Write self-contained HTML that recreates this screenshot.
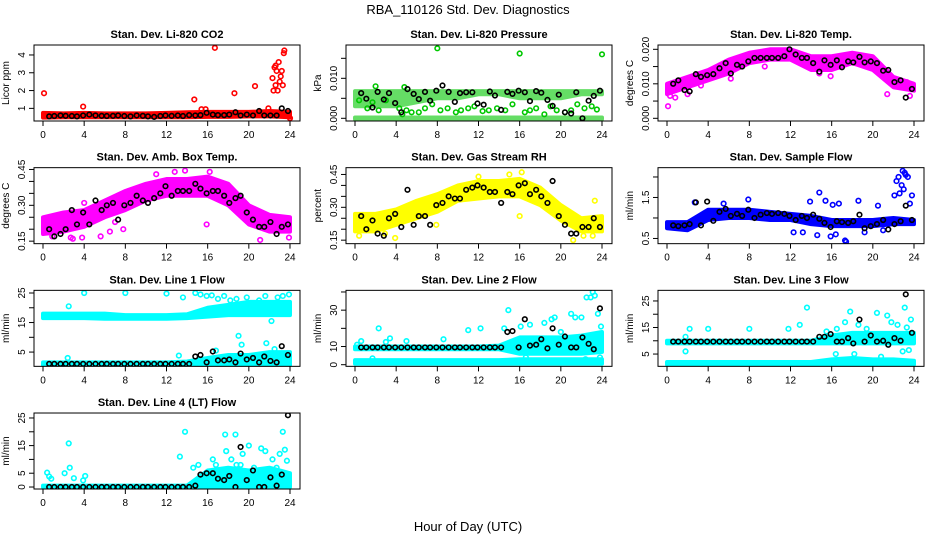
<!DOCTYPE html>
<html><head><meta charset="utf-8"><style>
html,body{margin:0;padding:0;background:#fff}
svg text{font-family:"Liberation Sans",sans-serif}
</style></head><body>
<svg id="chart" width="936" height="540" viewBox="0 0 936 540" xmlns="http://www.w3.org/2000/svg">
<rect x="0" y="0" width="936" height="540" fill="#fff"/>
<text x="468" y="14" text-anchor="middle" font-size="13">RBA_110126  Std. Dev. Diagnostics</text>
<text x="468" y="531" text-anchor="middle" font-size="13">Hour of Day (UTC)</text>
</svg>
<script>
const xTicks = [0,4,8,12,16,20,24];
const bandHours = [0,2,4,6,8,10,12,14,16,18,20,22,24];
const blackHours = [0.6,1.1,1.7,2.2,2.8,3.3,3.9,4.5,5.1,5.7,6.2,6.8,7.3,7.9,8.5,9.1,9.7,10.2,10.8,11.4,11.9,12.5,13.1,13.6,14.2,14.8,15.3,15.9,16.5,17.0,17.6,18.1,18.7,19.2,19.8,20.4,21.0,21.5,22.1,22.7,23.2,23.8];

// CO2
const co2Lo = [0.48,0.5,0.5,0.5,0.5,0.5,0.5,0.5,0.52,0.52,0.55,0.55,0.5];
const co2Hi = [0.75,0.72,0.75,0.72,0.72,0.72,0.75,0.78,0.8,0.8,0.8,0.85,0.8];
const co2OutX = [0.1,3.9,14.7,15.4,15.8,16.7,18.6,20.6,21.9,22.3,22.4,22.5,22.6,22.6,22.7,22.8,22.9,23.0,23.1,23.2,23.3,23.4,23.45,24.0];
const co2OutY = [1.85,1.1,1.5,0.95,0.95,4.4,1.85,2.25,1.0,2.7,2.0,3.3,2.3,3.4,3.1,2.0,3.6,2.5,2.8,3.1,2.3,4.1,4.25,0.45];
const co2Black = [0.55,0.57,0.6,0.58,0.57,0.55,0.6,0.65,0.6,0.58,0.57,0.58,0.6,0.57,0.55,0.6,0.58,0.55,0.52,0.57,0.6,0.58,0.6,0.57,0.62,0.6,0.62,0.75,0.65,0.62,0.62,0.65,0.78,0.6,0.65,0.6,0.85,0.6,0.6,0.6,1.0,0.85];

// Pressure
const presLo = [0.003,0.003,0.003,0.004,0.005,0.005,0.006,0.006,0.005,0.005,0.005,0.006,0.006];
const presHi = [0.0068,0.0068,0.0068,0.0068,0.0068,0.0068,0.0068,0.0068,0.0068,0.0068,0.0068,0.0068,0.0068];
const presZeroLo = [-0.0002,-0.0002,-0.0002,-0.0002,-0.0002,-0.0002,-0.0002,-0.0002,-0.0002,-0.0002,-0.0002,-0.0002,-0.0002];
const presZeroHi = [0.0002,0.0002,0.0002,0.0002,0.0002,0.0002,0.0002,0.0002,0.0002,0.0002,0.0002,0.0002,0.0002];
const presOutX = [8.0,16.0,24.0,0.4,1.2,1.7,2.3,3.0,4.3,4.6,5.0,5.5,6.2,6.8,7.5,8.3,9.0,9.8,10.3,11.0,11.6,12.4,13.0,13.8,14.6,15.3,16.5,17.0,17.6,18.4,19.0,19.6,20.4,21.0,21.6,22.3,23.0,23.5,2.0,4.8];
const presOutY = [0.0175,0.0162,0.016,0.0045,0.0025,0.004,0.002,0.0045,0.0025,0.001,0.002,0.0015,0.0015,0.0025,0.0035,0.002,0.0025,0.0015,0.002,0.0025,0.003,0.0018,0.002,0.0025,0.002,0.0035,0.0015,0.002,0.0025,0.001,0.003,0.002,0.0015,0.002,0.0035,0.0025,0.003,0.0022,0.008,0.0078];
const presBlack = [0.0063,0.0049,0.0027,0.0066,0.0047,0.0063,0.0038,0.0015,0.0073,0.0061,0.0048,0.0066,0.0044,0.0069,0.0082,0.0066,0.0041,0.0063,0.0065,0.0065,0.0037,0.0034,0.0067,0.0057,0.0021,0.0066,0.0061,0.0069,0.0065,0.0043,0.0068,0.0064,0.0046,0.0031,0.0059,0.0015,0.0012,0.0065,0.0,0.0044,0.0056,0.0069];

// Li-820 Temp
const tempLo = [0.007,0.009,0.011,0.013,0.016,0.017,0.017,0.014,0.014,0.016,0.014,0.009,0.008];
const tempHi = [0.010,0.012,0.014,0.017,0.019,0.020,0.020,0.018,0.018,0.019,0.018,0.012,0.010];
const tempOutX = [0.1,0.3,0.8,2.0,3.3,6.2,9.5,14.8,15.9,21.4,23.3,23.6];
const tempOutY = [0.0035,0.0065,0.006,0.007,0.0095,0.0115,0.015,0.013,0.0122,0.007,0.0105,0.0065];
const tempBlack = [0.0100,0.0110,0.0082,0.0078,0.0128,0.0120,0.0125,0.0128,0.0145,0.0160,0.0130,0.0155,0.0150,0.0165,0.0175,0.0175,0.0175,0.0175,0.0175,0.0180,0.0200,0.0185,0.0175,0.0175,0.0160,0.0135,0.0168,0.0155,0.0168,0.0148,0.0165,0.0162,0.0178,0.0162,0.0165,0.0160,0.0138,0.0140,0.0105,0.0110,0.0060,0.0085];

// Amb box temp
const ambLo = [0.18,0.19,0.21,0.25,0.28,0.32,0.34,0.34,0.34,0.30,0.22,0.19,0.19];
const ambHi = [0.25,0.27,0.28,0.32,0.36,0.39,0.41,0.41,0.42,0.39,0.30,0.26,0.25];
const ambOutX = [0.9,2.7,2.9,3.8,5.6,6.5,7.0,7.8,8.4,11.0,12.8,13.8,15.9,16.2,21.1,23.9,4.0,7.3];
const ambOutY = [0.17,0.165,0.16,0.165,0.17,0.19,0.23,0.2,0.33,0.43,0.44,0.445,0.22,0.44,0.155,0.165,0.31,0.34];
const ambBlack = [0.20,0.17,0.18,0.20,0.28,0.22,0.27,0.22,0.32,0.28,0.30,0.31,0.24,0.30,0.31,0.34,0.32,0.31,0.33,0.35,0.38,0.34,0.36,0.36,0.36,0.39,0.37,0.35,0.36,0.36,0.34,0.31,0.33,0.34,0.27,0.24,0.21,0.21,0.23,0.18,0.21,0.22];

// Gas stream RH
const rhLo = [0.19,0.19,0.22,0.25,0.28,0.33,0.34,0.35,0.35,0.31,0.24,0.19,0.19];
const rhHi = [0.27,0.27,0.29,0.33,0.36,0.40,0.42,0.42,0.43,0.39,0.31,0.25,0.26];
const rhOutX = [0.4,2.9,3.9,7.9,12.0,15.0,16.0,16.2,21.2,22.2,23.1,23.3];
const rhOutY = [0.17,0.18,0.16,0.22,0.44,0.45,0.26,0.46,0.15,0.17,0.17,0.33];
const rhBlack = [0.26,0.20,0.24,0.18,0.17,0.25,0.27,0.21,0.38,0.22,0.26,0.26,0.22,0.31,0.32,0.35,0.34,0.34,0.38,0.39,0.40,0.39,0.37,0.37,0.32,0.37,0.36,0.40,0.41,0.36,0.38,0.35,0.32,0.42,0.26,0.22,0.18,0.18,0.21,0.21,0.25,0.21];

// Sample flow
const sfLo = [0.75,0.7,0.95,1.0,1.0,0.95,0.95,0.85,0.8,0.8,0.8,0.85,0.85];
const sfHi = [0.9,0.9,1.2,1.2,1.2,1.15,1.1,1.05,0.95,0.95,0.95,1.0,0.95];
const sfOutX = [2.7,5.5,7.9,12.3,13.2,13.9,14.6,14.8,15.4,15.9,16.1,16.4,16.7,17.3,17.4,18.6,19.2,20.5,21.0,22.1,22.3,22.5,22.6,22.8,22.9,23.0,23.1,23.2,23.4,23.6,23.8];
const sfOutY = [1.38,1.35,1.45,0.65,0.65,1.4,0.58,1.62,1.42,0.55,1.32,0.6,1.35,0.45,0.42,1.42,0.65,1.3,0.7,1.55,1.9,2.0,1.6,1.8,2.15,1.7,2.1,2.05,2.0,1.35,1.55];
const sfBlack = [0.82,0.8,0.82,0.85,1.38,0.82,1.4,0.93,1.15,1.22,1.05,1.1,1.05,1.2,1.0,1.08,1.12,1.1,1.12,1.1,1.05,0.95,1.05,1.0,1.08,0.98,0.88,0.78,0.92,0.9,0.88,0.92,1.08,0.75,0.8,0.85,0.95,0.72,0.85,0.92,1.3,0.95];

// Line 1
const l1ALo = [16.5,16.5,16.5,16.3,16.3,16.3,16.3,16.5,17.0,17.5,17.5,17.5,17.5];
const l1AHi = [18,18,18,18,17.5,17.5,17.5,17.8,20,21,22,22,22];
const l1BLo = [0.5,0.5,0.5,0.5,0.5,0.5,0.5,0.5,0.5,0.5,0.5,0.5,0.5];
const l1BHi = [1.5,1.5,1.5,1.5,1.5,1.5,1.5,1.8,3,4,4,5,5];
const l1OutX = [2.5,4.0,8.0,12.0,13.6,14.8,15.3,15.9,16.4,17.0,17.6,18.2,18.8,19.3,19.8,20.4,21.0,21.6,22.2,22.8,23.3,23.9,19.0,19.3,21.7,16.8,22.5,13.2,2.4];
const l1OutY = [20.5,25,25,24.8,23.5,25,24.5,24,24.2,23,24,22.5,23,20.5,23.5,21.5,22.5,24,15.5,23.5,24,24.5,10.5,7.5,8,5.5,6,3.8,3];
const l1Black = [1,1,1,1,1,1,1,1,1,1,1,1,1,1,1,1,1,1,1,1,1,1,1,1,1,3.5,4.0,1.5,5.2,2.2,2.2,2.5,1.5,4.5,2.5,3.0,1.5,3.5,2.0,1.5,7.0,4.0];

// Line 2
const l2ALo = [8.5,8.5,8.5,8.5,8.5,8.5,8.5,8.5,6,6,6,6,7];
const l2AHi = [10,10,10,10,10,10,10,10.5,15,15,15,16,18];
const l2BLo = [0.5,0.5,0.5,0.5,0.5,0.5,0.5,0.5,0.5,0.5,0.5,0.5,0.5];
const l2BHi = [2.5,2.5,2.5,2.5,2.5,2.5,2.5,2.5,3,3,3,3,3];
const l2OutX = [0.2,0.6,2.3,3.0,3.4,5.0,8.6,11.0,12.2,14.5,14.9,16.1,17.0,18.4,19.1,19.4,20.0,21.0,21.4,22.0,22.5,22.9,23.1,23.3,23.6,23.9,1.7,16.6,20.8,22.4,23.8];
const l2OutY = [11,13,20,12.5,14.5,13,14,19,20,20,30,21,22,23,25,26,18,28,26,26,37,37,40,38,28,21,3.5,4,2,3,4];
const l2Black = [9.5,9.5,9.5,9.5,9.5,9.5,9.5,9.5,9.5,9.5,9.5,9.5,9.5,9.5,9.5,9.5,9.5,9.5,9.5,9.5,9.5,9.5,9.5,9.5,9.5,18,18.5,9.5,25,10.5,11,14,9,20,11,15.5,9.5,9.5,15,11.5,8.5,31];

// Line 3
const l3ALo = [9,9,9,9,9,9,9,9,9,9,9,9,9];
const l3AHi = [10,10,10,10,10,10,10,10,12,13,13,13,13];
const l3BLo = [1,1,1,1,1,1,1,1,1,1,1,1,1];
const l3BHi = [2,2,2,2,2,2,2,2,3,3.5,3,3,2.5];
const l3OutX = [1.8,2.2,4.0,8.0,11.8,12.9,13.6,15.5,16.5,17.3,17.8,18.6,19.4,20.4,21.4,21.8,22.4,23.1,23.3,23.7,16.4,18.2,20.8,22.9,23.5,1.8];
const l3OutY = [11.5,14.5,14.5,14.5,14.5,16,22.5,13.5,14.5,17,21,16,14.5,20.5,19.5,17,16,22.5,15,18,5,5,4,6,6.5,6];
const l3Black = [9.7,9.7,9.7,9.7,9.7,9.7,9.7,9.7,9.7,9.7,9.7,9.7,9.7,9.7,9.7,9.7,9.7,9.7,9.7,9.7,9.7,9.7,9.7,9.7,9.7,11.5,11.5,12.5,9.7,9.7,11,9,18,9.7,12,9.7,10,8.5,11,10,27.5,13];

// Line 4
const l4ALo = [0,0,0,0,0,0,0,0,0,0,0,0,0];
const l4AHi = [0.5,0.5,0.5,0.5,0.5,0.5,0.5,0.5,6,7,6,7,5];
const l4OutX = [0.4,0.6,0.8,2.1,2.5,2.6,3.0,3.9,4.1,13.3,13.8,14.6,15.1,16.5,17.7,17.8,18.3,18.7,19.2,19.4,20.0,21.2,21.6,22.3,23.0,23.3,23.5,23.7,22.7,20.5,18.8,16.8];
const l4OutY = [5.2,3.8,3,5,15.8,7,3.2,2.4,4,11,20,7,8,10,19,13,10,19,8,12,15,14,13,10,12,20,13.5,9.5,7,7,8,8];
const l4Black = [0,0,0,0,0,0,0,0,0,0,0,0,0,0,0,0,0,0,0,0,0,0,0,0,0,0.5,4.5,5,5,3,2.5,4,0,14.5,2.5,6,0,0,3.5,0.5,4.5,26];

const NS = 'http://www.w3.org/2000/svg';
const svg = document.getElementById('chart');
function mk(tag, attrs, parent){
  const e = document.createElementNS(NS, tag);
  for (const k in attrs) e.setAttribute(k, attrs[k]);
  (parent||svg).appendChild(e);
  return e;
}

const panels = [
  {key:'co2', title:'Stan. Dev. Li-820 CO2', ylab:'Licor ppm', col:0,row:0, ymin:0.29, ymax:4.56, ticks:[1,2,3,4], labels:['1','2','3','4'], color:'#ff0000', op:1,
   bands:[[co2Lo,co2Hi]], outX:co2OutX, outY:co2OutY, black:co2Black},
  {key:'pressure', title:'Stan. Dev. Li-820 Pressure', ylab:'kPa', col:1,row:0, ymin:-0.000675, ymax:0.01833, ticks:[0,0.005,0.010,0.015], labels:['0.000','','0.010',''], color:'#00c800', op:0.6,
   bands:[[presLo,presHi],[presZeroLo,presZeroHi]], outX:presOutX, outY:presOutY, black:presBlack},
  {key:'li820-temp', title:'Stan. Dev. Li-820 Temp.', ylab:'degrees C', col:2,row:0, ymin:-0.00078, ymax:0.02125, ticks:[0,0.005,0.010,0.015,0.020], labels:['0.000','','0.010','','0.020'], color:'#ff00ff', op:1,
   bands:[[tempLo,tempHi]], outX:tempOutX, outY:tempOutY, black:tempBlack},
  {key:'amb-box-temp', title:'Stan. Dev. Amb. Box Temp.', ylab:'degrees C', col:0,row:1, ymin:0.1395, ymax:0.4575, ticks:[0.15,0.20,0.25,0.30,0.35,0.40,0.45], labels:['0.15','','','0.30','','','0.45'], color:'#ff00ff', op:1,
   bands:[[ambLo,ambHi]], outX:ambOutX, outY:ambOutY, black:ambBlack},
  {key:'gas-stream-rh', title:'Stan. Dev. Gas Stream RH', ylab:'percent', col:1,row:1, ymin:0.134, ymax:0.481, ticks:[0.15,0.20,0.25,0.30,0.35,0.40,0.45], labels:['0.15','','','0.30','','','0.45'], color:'#ffff00', op:1,
   bands:[[rhLo,rhHi]], outX:rhOutX, outY:rhOutY, black:rhBlack},
  {key:'sample-flow', title:'Stan. Dev. Sample Flow', ylab:'ml/min', col:2,row:1, ymin:0.373, ymax:2.227, ticks:[0.5,1.0,1.5,2.0], labels:['0.5','','1.5',''], color:'#0000ff', op:1,
   bands:[[sfLo,sfHi]], outX:sfOutX, outY:sfOutY, black:sfBlack},
  {key:'line1-flow', title:'Stan. Dev. Line 1 Flow', ylab:'ml/min', col:0,row:2, ymin:0.17, ymax:25.9, ticks:[5,10,15,20,25], labels:['5','','15','','25'], color:'#00ffff', op:1,
   bands:[[l1ALo,l1AHi],[l1BLo,l1BHi]], outX:l1OutX, outY:l1OutY, black:l1Black},
  {key:'line2-flow', title:'Stan. Dev. Line 2 Flow', ylab:'ml/min', col:1,row:2, ymin:-0.9, ymax:40.9, ticks:[0,10,20,30,40], labels:['0','10','','30',''], color:'#00ffff', op:1,
   bands:[[l2ALo,l2AHi],[l2BLo,l2BHi]], outX:l2OutX, outY:l2OutY, black:l2Black},
  {key:'line3-flow', title:'Stan. Dev. Line 3 Flow', ylab:'ml/min', col:2,row:2, ymin:0.37, ymax:29, ticks:[5,10,15,20,25], labels:['5','','15','','25'], color:'#00ffff', op:1,
   bands:[[l3ALo,l3AHi],[l3BLo,l3BHi]], outX:l3OutX, outY:l3OutY, black:l3Black},
  {key:'line4-flow', title:'Stan. Dev. Line 4 (LT) Flow', ylab:'ml/min', col:0,row:3, ymin:-0.72, ymax:26.8, ticks:[0,5,10,15,20,25], labels:['0','5','','15','','25'], color:'#00ffff', op:1,
   bands:[[l4ALo,l4AHi]], outX:l4OutX, outY:l4OutY, black:l4Black}
];

panels.forEach(p => {
  const L = 34 + 312*p.col, R = 300 + 312*p.col;
  const T = 45 + 122.67*p.row, B = T + 76;
  const x = h => (43 + 312*p.col) + h/24*247;
  const y = v => B - (v - p.ymin)/(p.ymax - p.ymin)*(B - T);
  const g = mk('g', {});
  
  
  const clipId = 'clip-' + p.key;
  const cp = mk('clipPath', {id: clipId}, g);
  mk('rect', {x:L, y:T, width:R-L, height:B-T}, cp);
  const marks = mk('g', {'clip-path':'url(#'+clipId+')'}, g);
  
  
  p.bands.forEach((bd, bi) => {
    const lo = bd[0], hi = bd[1];
    let pts = [];
    bandHours.forEach((h,i) => pts.push(x(h)+','+y(hi[i])));
    for (let i = bandHours.length-1; i >= 0; i--) pts.push(x(bandHours[i])+','+y(lo[i]));
    const poly = mk('polygon', {points: pts.join(' '), fill:p.color, stroke:p.color, 'stroke-width':4, 'stroke-linejoin':'round', opacity:p.op}, marks);
    
    
  });
  p.outX.forEach((h,i) => {
    const c = mk('circle', {cx:x(h), cy:y(p.outY[i]), r:2.3, fill:'none', stroke:p.color, 'stroke-width':1.6}, marks);
    
    
  });
  blackHours.forEach((h,i) => {
    const c = mk('circle', {cx:x(h), cy:y(p.black[i]), r:2.3, fill:'none', stroke:'#000', 'stroke-width':1.6}, marks);
    
    
  });
  const box = mk('rect', {x:L, y:T, width:R-L, height:B-T, fill:'none', stroke:'#000', 'stroke-width':1}, g);
  
  
  const t = mk('text', {x:(L+R)/2, y:T-7, 'text-anchor':'middle', 'font-size':11, 'font-weight':'bold'}, g);
  t.textContent = p.title;
  
  
  xTicks.forEach(v => {
    mk('line', {x1:x(v), x2:x(v), y1:B, y2:B+5, stroke:'#000', 'stroke-width':1}, g);
    const tl = mk('text', {x:x(v), y:B+17, 'text-anchor':'middle', 'font-size':10}, g);
    tl.textContent = String(v);
    
    
  });
  p.ticks.forEach((v,i) => {
    mk('line', {x1:L-5, x2:L, y1:y(v), y2:y(v), stroke:'#000', 'stroke-width':1}, g);
    if (p.labels[i]) {
      const yl = mk('text', {x:L-9, y:y(v), 'text-anchor':'middle', 'font-size':10, transform:'rotate(-90 '+(L-9)+' '+y(v)+')'}, g);
      yl.textContent = p.labels[i];
      
      
    }
  });
  const ylx = L - 25, yly = (T+B)/2;
  const ylab = mk('text', {x:ylx, y:yly, 'text-anchor':'middle', 'font-size':10, transform:'rotate(-90 '+ylx+' '+yly+')'}, g);
  ylab.textContent = p.ylab;
  
  
});
</script>
</body></html>
